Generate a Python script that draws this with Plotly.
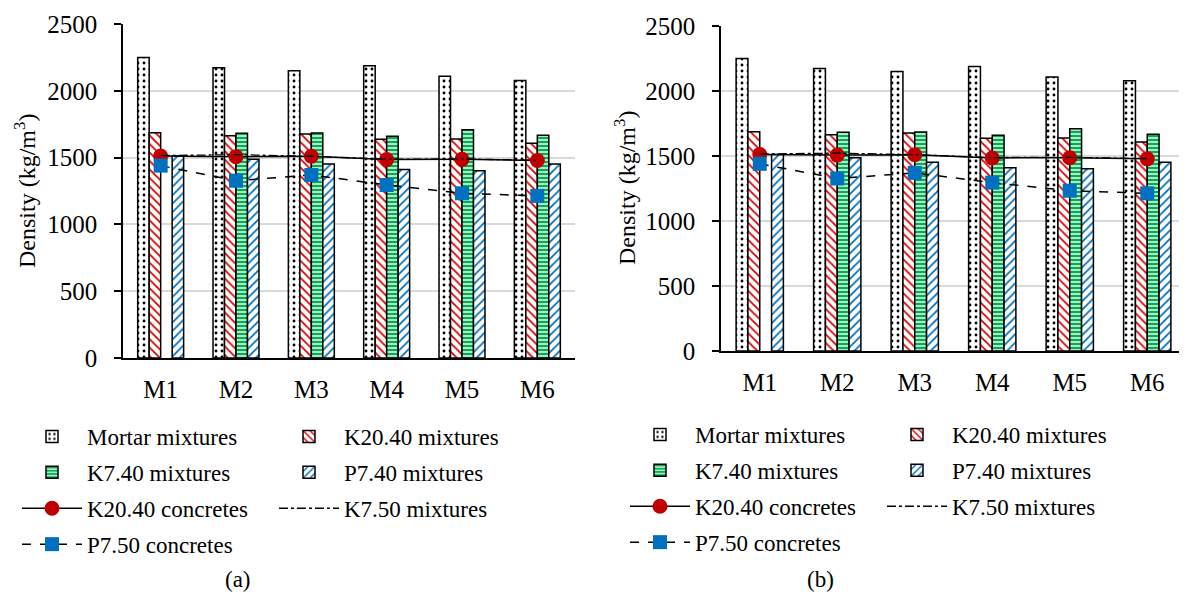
import plotly.graph_objects as go

# page is offset by the body margin (8 px); figure is sized to fit the visible window
OFF = 8
W, H = 1187 - OFF, 592 - OFF

categories = ["M1", "M2", "M3", "M4", "M5", "M6"]
mortar_mix = [2250, 2173, 2150, 2188, 2108, 2078]
k2040_mix = [1686, 1664, 1677, 1637, 1639, 1607]
k740_mix = [None, 1682, 1684, 1659, 1709, 1667]
p740_mix = [1512, 1487, 1452, 1410, 1402, 1452]
k2040_conc = [1512, 1507, 1510, 1485, 1487, 1478]
k750_mix = [1515, 1522, 1510, 1488, 1490, 1480]
p750_conc = [1440, 1327, 1370, 1295, 1233, 1213]
y_ticks = [0, 500, 1000, 1500, 2000, 2500]

FONT = "Liberation Serif, Times New Roman, serif"


def fx(px):
    return (px - OFF) / W


def fy(py):
    return 1 - (py - OFF) / H


fig = go.Figure()

panels = [
    dict(xa="x", ya="y", leg1="legend", leg2="legend2", tag="a"),
    dict(xa="x2", ya="y2", leg1="legend3", leg2="legend4", tag="b"),
]

for p in panels:
    t = p["tag"]
    common = dict(x=categories, xaxis=p["xa"], yaxis=p["ya"])
    fig.add_trace(go.Bar(y=mortar_mix, name="Mortar mixtures", legend=p["leg1"],
                         legendgroup=t + "1",
                         marker=dict(color="white", line=dict(color="black", width=1.5),
                                     pattern=dict(shape=".", fgcolor="black", bgcolor="white",
                                                  fgopacity=1, size=6, solidity=0.18)), **common))
    fig.add_trace(go.Bar(y=k2040_mix, name="K20.40 mixtures", legend=p["leg2"],
                         legendgroup=t + "2",
                         marker=dict(color="white", line=dict(color="black", width=1.5),
                                     pattern=dict(shape="\\", fgcolor="#E00000", bgcolor="white",
                                                  fgopacity=1, size=6, solidity=0.3)), **common))
    fig.add_trace(go.Bar(y=k740_mix, name="K7.40 mixtures", legend=p["leg1"],
                         legendgroup=t + "3",
                         marker=dict(color="white", line=dict(color="black", width=1.5),
                                     pattern=dict(shape="-", fgcolor="#00B050", bgcolor="white",
                                                  fgopacity=1, size=4, solidity=0.65)), **common))
    fig.add_trace(go.Bar(y=p740_mix, name="P7.40 mixtures", legend=p["leg2"],
                         legendgroup=t + "4",
                         marker=dict(color="white", line=dict(color="black", width=1.5),
                                     pattern=dict(shape="/", fgcolor="#0070C0", bgcolor="white",
                                                  fgopacity=1, size=6, solidity=0.3)), **common))
    fig.add_trace(go.Scatter(y=k2040_conc, name="K20.40 concretes", legend=p["leg1"],
                             legendgroup=t + "5", mode="lines+markers",
                             line=dict(color="black", width=1.5),
                             marker=dict(symbol="circle", size=15, color="#C00000"), **common))
    fig.add_trace(go.Scatter(y=k750_mix, name="K7.50 mixtures", legend=p["leg2"],
                             legendgroup=t + "6", mode="lines",
                             line=dict(color="black", width=1.3, dash="dashdot"), **common))
    fig.add_trace(go.Scatter(y=p750_conc, name="P7.50 concretes", legend=p["leg1"],
                             legendgroup=t + "7", mode="lines+markers",
                             line=dict(color="black", width=1.5, dash="dash"),
                             marker=dict(symbol="square", size=14, color="#0070C0"), **common))


yax = dict(range=[0, 2500], tickvals=y_ticks, showgrid=True, gridcolor="#D9D9D9", gridwidth=1.5,
           showline=True, linecolor="black", linewidth=1.5, ticks="outside", ticklen=7,
           tickcolor="black", tickwidth=1.5, ticklabelstandoff=12, zeroline=False,
           tickfont=dict(family=FONT, size=25, color="black"))
xax = dict(showline=True, linecolor="black", linewidth=2, ticks="", ticklabelstandoff=8,
           tickfont=dict(family=FONT, size=25, color="black"), showgrid=False)

leg_common = dict(orientation="v", xref="container", yref="container", xanchor="left",
                  yanchor="top", traceorder="grouped", tracegroupgap=3, itemwidth=60,
                  bgcolor="rgba(0,0,0,0)", font=dict(family=FONT, size=23, color="black"),
                  itemclick=False, itemdoubleclick=False)

txt = dict(family=FONT, size=23, color="black")

fig.update_layout(
    width=W, height=H,
    margin=dict(l=0, r=0, t=0, b=0, autoexpand=False),
    paper_bgcolor="white", plot_bgcolor="white",
    barmode="group", bargap=0.39, bargroupgap=0,
    font=txt,
    xaxis=dict(domain=[fx(123), fx(575)], anchor="y", **xax),
    yaxis=dict(domain=[fy(358), fy(24)], anchor="x", **yax),
    xaxis2=dict(domain=[fx(721), fx(1186)], anchor="y2", **xax),
    yaxis2=dict(domain=[fy(351), fy(26)], anchor="x2", **yax),
    legend=dict(x=fx(17), y=fy(415), **leg_common),
    legend2=dict(x=fx(274), y=fy(415), **leg_common),
    legend3=dict(x=fx(625), y=fy(413), **leg_common),
    legend4=dict(x=fx(882), y=fy(413), **leg_common),
    annotations=[
        dict(text="Density (kg/m<sup>3</sup>)", x=fx(25), y=fy(191), xref="paper", yref="paper",
             textangle=-90, showarrow=False, xanchor="center", yanchor="middle",
             font=dict(family=FONT, size=24, color="black")),
        dict(text="Density (kg/m<sup>3</sup>)", x=fx(625), y=fy(188), xref="paper", yref="paper",
             textangle=-90, showarrow=False, xanchor="center", yanchor="middle",
             font=dict(family=FONT, size=24, color="black")),
        dict(text="(a)", x=fx(238), y=fy(579), xref="paper", yref="paper", showarrow=False,
             xanchor="center", yanchor="middle", font=txt),
        dict(text="(b)", x=fx(820), y=fy(579), xref="paper", yref="paper", showarrow=False,
             xanchor="center", yanchor="middle", font=txt),
    ],
)

fig.write_html("out.html")
